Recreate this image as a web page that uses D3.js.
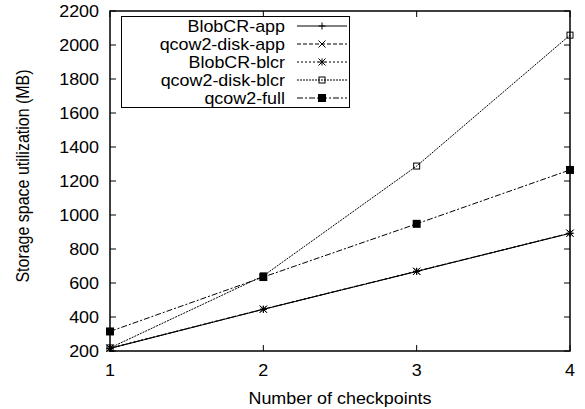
<!DOCTYPE html>
<html><head><meta charset="utf-8">
<script src="https://cdn.jsdelivr.net/npm/d3@7"></script>
<style>body{margin:0;background:#fff}svg text{font-family:"Liberation Sans",Arial,sans-serif;fill:#000}</style>
</head><body><svg id="c" width="585" height="409"></svg>
<script>
const checkpoints = [1, 2, 3, 4];
const blobcrApp = [215, 445, 668, 892];
const qcow2DiskApp = [216, 446, 669, 893];
const blobcrBlcr = [217, 446, 669, 893];
const qcow2DiskBlcr = [218, 642, 1288, 2058];
const qcow2Full = [315, 635, 948, 1265];
const seriesNames = ["BlobCR-app", "qcow2-disk-app", "BlobCR-blcr", "qcow2-disk-blcr", "qcow2-full"];
const yTicks = [200, 400, 600, 800, 1000, 1200, 1400, 1600, 1800, 2000, 2200];
const xTicks = [1, 2, 3, 4];

const series = [
  {name: seriesNames[0], values: blobcrApp, dash: null, marker: "plus"},
  {name: seriesNames[1], values: qcow2DiskApp, dash: "4,2", marker: "cross"},
  {name: seriesNames[2], values: blobcrBlcr, dash: "2,2", marker: "star"},
  {name: seriesNames[3], values: qcow2DiskBlcr, dash: "2,1", marker: "box"},
  {name: seriesNames[4], values: qcow2Full, dash: "6,2,2,2", marker: "fbox"}
];

const svg = d3.select("#c");
const L = 110, R = 570, T = 11, B = 351;
const x = d3.scaleLinear().domain([1, 4]).range([L, R]);
const y = d3.scaleLinear().domain([200, 2200]).range([B, T]);
const fs = 16, sx = 1.12;

function txt(parent, tx, ty, str, anchor, rot) {
  return parent.append("text")
    .attr("transform", `translate(${tx},${ty})` + (rot ? ` rotate(${rot})` : "") + (rot ? ` scale(1,1)` : ` scale(${sx},1)`))
    .attr("text-anchor", anchor).attr("font-size", fs).attr("dy", "0.36em").text(str);
}

const g = svg.append("g");
g.selectAll(".yl").data(yTicks).enter().append("line")
  .attr("x1", L).attr("x2", L + 6).attr("y1", d => y(d)).attr("y2", d => y(d)).attr("stroke", "#000");
g.selectAll(".yr").data(yTicks).enter().append("line")
  .attr("x1", R).attr("x2", R - 6).attr("y1", d => y(d)).attr("y2", d => y(d)).attr("stroke", "#000");
g.selectAll(".xb").data(xTicks).enter().append("line")
  .attr("x1", d => x(d)).attr("x2", d => x(d)).attr("y1", B).attr("y2", B - 6).attr("stroke", "#000");
g.selectAll(".xt").data(xTicks).enter().append("line")
  .attr("x1", d => x(d)).attr("x2", d => x(d)).attr("y1", T).attr("y2", T + 6).attr("stroke", "#000");

yTicks.forEach(d => txt(g, L - 11, y(d), d, "end"));
xTicks.forEach(d => txt(g, x(d), 370, d, "middle"));

txt(svg, (L + R) / 2, 398, "Number of checkpoints", "middle");
svg.append("text").attr("transform", `translate(29,${(T + B) / 2 - 5}) rotate(-90) scale(1,${sx})`)
  .attr("text-anchor", "middle").attr("font-size", fs).text("Storage space utilization (MB)");

function drawMarker(sel, type, cx, cy) {
  const s = 3.5;
  if (type === "plus") {
    sel.append("path").attr("d", `M${cx - s},${cy}H${cx + s}M${cx},${cy - s}V${cy + s}`).attr("stroke", "#000").attr("fill", "none");
  } else if (type === "cross") {
    sel.append("path").attr("d", `M${cx - s},${cy - s}L${cx + s},${cy + s}M${cx - s},${cy + s}L${cx + s},${cy - s}`).attr("stroke", "#000").attr("fill", "none");
  } else if (type === "star") {
    sel.append("path").attr("d", `M${cx - s},${cy - s}L${cx + s},${cy + s}M${cx - s},${cy + s}L${cx + s},${cy - s}M${cx - s},${cy}H${cx + s}M${cx},${cy - s}V${cy + s}`).attr("stroke", "#000").attr("fill", "none");
  } else if (type === "box") {
    sel.append("rect").attr("x", cx - 3).attr("y", cy - 3).attr("width", 6).attr("height", 6).attr("stroke", "#000").attr("fill", "none");
  } else if (type === "fbox") {
    sel.append("rect").attr("x", cx - 4).attr("y", cy - 4).attr("width", 8).attr("height", 8).attr("fill", "#000");
  }
}

const line = d3.line().x((d, i) => x(checkpoints[i])).y(d => y(d));
const lines = svg.append("g");
series.forEach(s => {
  lines.append("path").datum(s.values).attr("d", line).attr("fill", "none")
    .attr("stroke", "#000").attr("stroke-width", 1).attr("stroke-dasharray", s.dash);
});
series.forEach(s => {
  s.values.forEach((v, i) => drawMarker(lines, s.marker, x(checkpoints[i]), y(v)));
});

const lg = svg.append("g");
lg.append("rect").attr("x", 121.5).attr("y", 16.5).attr("width", 228).attr("height", 91)
  .attr("fill", "#fff").attr("stroke", "#000");
series.forEach((s, i) => {
  const cy = 26 + i * 18;
  txt(lg, 285, cy, s.name, "end");
  lg.append("line").attr("x1", 297).attr("x2", 347).attr("y1", cy).attr("y2", cy)
    .attr("stroke", "#000").attr("stroke-dasharray", s.dash);
  drawMarker(lg, s.marker, 322, cy);
});

svg.append("rect").attr("x", L).attr("y", T).attr("width", R - L).attr("height", B - T)
  .attr("fill", "none").attr("stroke", "#000").attr("stroke-width", 1.5);
</script></body></html>
